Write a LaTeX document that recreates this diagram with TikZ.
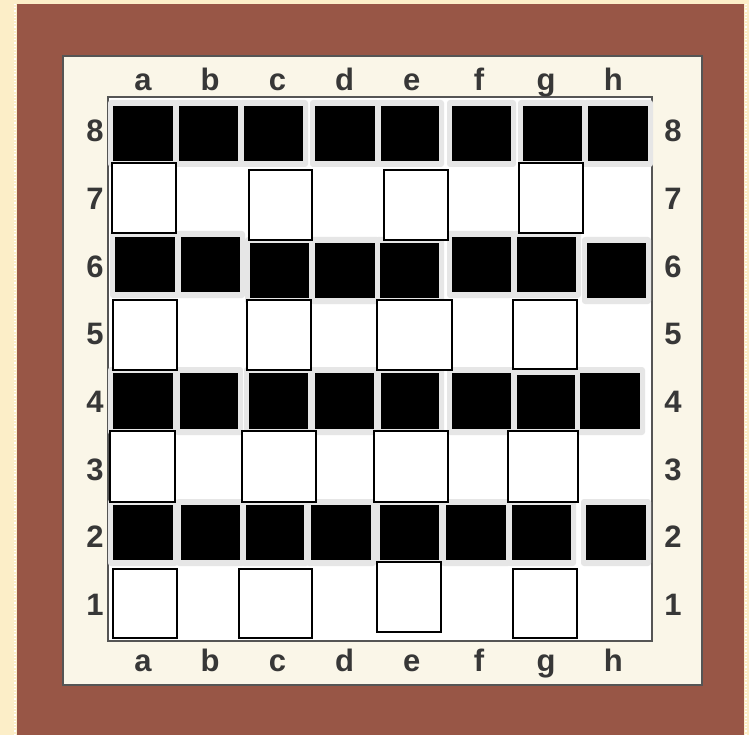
\documentclass[tikz,border=0pt]{standalone}
\usepackage{fontspec}
\setmainfont{Liberation Sans}
\usetikzlibrary{positioning}
\definecolor{pagebg}{RGB}{252,238,200}
\definecolor{framebrown}{RGB}{152,86,70}
\definecolor{boardcream}{RGB}{250,246,232}
\definecolor{edgegray}{RGB}{85,85,85}
\definecolor{tilegray}{RGB}{230,230,230}
\definecolor{labelgray}{RGB}{55,55,55}
\tikzset{
  blacksq/.style={fill=black},
  tilesq/.style={fill=tilegray, rounded corners=3pt},
  whitesq/.style={fill=white, draw=black, line width=1.3pt},
  coordlabel/.style={font=\bfseries\fontsize{31}{31}\selectfont, text=labelgray, anchor=base, inner sep=0pt}
}

\begin{document}
\begin{tikzpicture}[x=1pt, y=-1pt]
  \useasboundingbox (0,0) rectangle (749,735);

  % Frame and board
  \fill[pagebg] (0,0) rectangle (749,735);
  \fill[framebrown] (17,4) rectangle (744,735);
  \draw[white, dotted, line width=1.2pt] (15,4) -- (15,735);
  \draw[white, dotted, line width=1.2pt] (746,4) -- (746,735);
  \filldraw[fill=boardcream, draw=edgegray, line width=2pt] (63,56) rectangle (702,685);
  \filldraw[fill=white, draw=edgegray, line width=2.5pt] (108,97) rectangle (652,641);

  % Black squares (ranks 8, 6, 4, 2)
  \foreach \xa/\ya/\xb/\yb in {
      113/106/173/161, 179/106/238/161, 244/106/303/161, 315/106/375/161,
      381/106/439/161, 452/106/511/161, 523/106/582/161, 588/106/648/161,
      115/237/175/292, 181/237/240/292, 250/243/309/298, 315/243/375/298,
      380/243/439/298, 452/237/511/292, 517/237/576/292, 587/243/646/298,
      113/373/173/429, 180/373/238/429, 249/373/308/429, 315/373/374/429,
      381/373/439/429, 452/373/511/429, 517/375/575/429, 580/373/640/429,
      113/505/173/560, 181/505/240/560, 246/505/304/560, 311/505/371/560,
      380/505/439/560, 446/505/506/560, 512/505/571/560, 586/505/646/560}{
    \fill[tilesq] (\xa-5,\ya-6) rectangle (\xb+5,\yb+6);
    \fill[blacksq] (\xa,\ya) rectangle (\xb,\yb);
  }

  % Outlined white squares (ranks 7, 5, 3, 1)
  \foreach \xa/\ya/\xb/\yb in {
      112/163/176/233, 249/170/312/240, 384/170/448/240, 519/163/583/233,
      113/300/177/370, 247/300/311/370, 377/300/452/370, 513/300/577/369,
      110/431/175/502, 242/431/316/502, 374/431/448/502, 508/431/578/502,
      113/569/177/638, 239/569/312/638, 377/562/441/632, 513/569/577/638}{
    \draw[whitesq] (\xa,\ya) rectangle (\xb,\yb);
  }

  % Coordinates
  \foreach \f [count=\i from 0] in {a,b,c,d,e,f,g,h}{
    \node[coordlabel] (top\f) at ({143+67.2*\i},91) {\f};
    \node[coordlabel] (bot\f) at ({143+67.2*\i},671) {\f};
  }
  \foreach \r [count=\i from 0] in {8,7,6,5,4,3,2,1}{
    \node[coordlabel] (left\r) at (95,{142+67.6*\i}) {\r};
    \node[coordlabel] (right\r) at (673,{142+67.6*\i}) {\r};
  }

\end{tikzpicture}
\end{document}
